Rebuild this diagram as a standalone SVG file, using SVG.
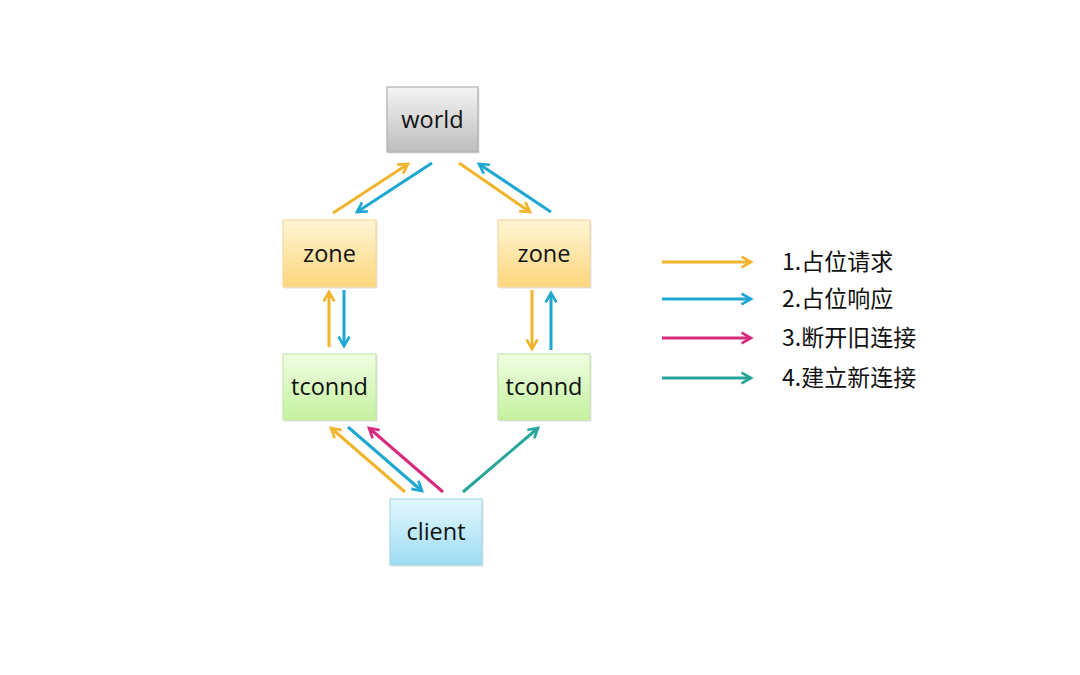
<svg xmlns="http://www.w3.org/2000/svg" width="1080" height="675" viewBox="0 0 1080 675">
<defs>
<linearGradient id="gW" x1="0" y1="0" x2="0" y2="1"><stop offset="0" stop-color="#f4f4f4"/><stop offset="1" stop-color="#bdbdbd"/></linearGradient>
<linearGradient id="gZ" x1="0" y1="0" x2="0" y2="1"><stop offset="0" stop-color="#fff5d6"/><stop offset="1" stop-color="#fcd67c"/></linearGradient>
<linearGradient id="gT" x1="0" y1="0" x2="0" y2="1"><stop offset="0" stop-color="#effde2"/><stop offset="1" stop-color="#c4f29e"/></linearGradient>
<linearGradient id="gC" x1="0" y1="0" x2="0" y2="1"><stop offset="0" stop-color="#e3f8ff"/><stop offset="1" stop-color="#9ddcf3"/></linearGradient>
<marker id="aY" viewBox="0 0 10 10" refX="8" refY="5" markerWidth="4.5" markerHeight="4.5" orient="auto" markerUnits="strokeWidth"><path d="M1,1 L8,5 L1,9" fill="none" stroke="#f0b52c" stroke-width="2"/></marker>
<marker id="aB" viewBox="0 0 10 10" refX="8" refY="5" markerWidth="4.5" markerHeight="4.5" orient="auto" markerUnits="strokeWidth"><path d="M1,1 L8,5 L1,9" fill="none" stroke="#1ea7d2" stroke-width="2"/></marker>
<marker id="aM" viewBox="0 0 10 10" refX="8" refY="5" markerWidth="4.5" markerHeight="4.5" orient="auto" markerUnits="strokeWidth"><path d="M1,1 L8,5 L1,9" fill="none" stroke="#d82a7e" stroke-width="2"/></marker>
<marker id="aT" viewBox="0 0 10 10" refX="8" refY="5" markerWidth="4.5" markerHeight="4.5" orient="auto" markerUnits="strokeWidth"><path d="M1,1 L8,5 L1,9" fill="none" stroke="#26a59a" stroke-width="2"/></marker>
</defs>
<style>
.box{stroke-width:1.2}
.sh{fill:#000;opacity:0.12}
.lbl{font-family:"Open Sans","Liberation Sans",sans-serif;font-size:23.5px;fill:#111;text-anchor:middle}
.leg{font-family:"Noto Sans CJK SC","Noto Sans",sans-serif;font-size:23px;fill:#111}
.y{stroke:#f0b52c;stroke-width:3;fill:none;marker-end:url(#aY)}
.b{stroke:#1ea7d2;stroke-width:3;fill:none;marker-end:url(#aB)}
.m{stroke:#d82a7e;stroke-width:3;fill:none;marker-end:url(#aM)}
.t{stroke:#26a59a;stroke-width:3;fill:none;marker-end:url(#aT)}
</style>
<rect width="1080" height="675" fill="#ffffff"/>
<g id="world"><rect class="sh" x="388.5" y="88.5" width="91" height="65"/><rect class="box" x="387" y="87" width="91" height="65" fill="url(#gW)" stroke="#b0b0b0"/><text class="lbl" x="432.5" y="128">world</text></g>
<g id="zone-left"><rect class="sh" x="284.5" y="221.5" width="93" height="67"/><rect class="box" x="283" y="220" width="93" height="67" fill="url(#gZ)" stroke="#f3d9a0"/><text class="lbl" x="329.5" y="262">zone</text></g>
<g id="zone-right"><rect class="sh" x="499.5" y="221.5" width="92" height="67"/><rect class="box" x="498" y="220" width="92" height="67" fill="url(#gZ)" stroke="#f3d9a0"/><text class="lbl" x="544" y="262">zone</text></g>
<g id="tconnd-left"><rect class="sh" x="284.5" y="355.5" width="93" height="66"/><rect class="box" x="283" y="354" width="93" height="66" fill="url(#gT)" stroke="#c8e8b0"/><text class="lbl" x="329.5" y="395">tconnd</text></g>
<g id="tconnd-right"><rect class="sh" x="499.5" y="355.5" width="92" height="66"/><rect class="box" x="498" y="354" width="92" height="66" fill="url(#gT)" stroke="#c8e8b0"/><text class="lbl" x="544" y="395">tconnd</text></g>
<g id="client"><rect class="sh" x="391.5" y="500.5" width="92" height="66"/><rect class="box" x="390" y="499" width="92" height="66" fill="url(#gC)" stroke="#a8d8ea"/><text class="lbl" x="436" y="540">client</text></g>
<g id="connectors">
<line class="y" x1="333" y1="213" x2="408" y2="164"/>
<line class="b" x1="432" y1="163" x2="357" y2="212"/>
<line class="y" x1="459" y1="163" x2="530" y2="212"/>
<line class="b" x1="551" y1="212" x2="479" y2="164"/>
<line class="y" x1="329" y1="347" x2="329" y2="292"/>
<line class="b" x1="344" y1="290" x2="344" y2="346"/>
<line class="y" x1="532" y1="290" x2="532" y2="349"/>
<line class="b" x1="551" y1="350" x2="551" y2="293"/>
<line class="y" x1="405" y1="492" x2="331" y2="428"/>
<line class="b" x1="348" y1="427" x2="422" y2="491"/>
<line class="m" x1="443" y1="492" x2="369" y2="428"/>
<line class="t" x1="463" y1="492" x2="538" y2="428"/>
</g>
<g id="legend">
<line class="y" x1="662" y1="262" x2="751" y2="262"/>
<line class="b" x1="662" y1="299" x2="751" y2="299"/>
<line class="m" x1="662" y1="338" x2="751" y2="338"/>
<line class="t" x1="662" y1="378" x2="751" y2="378"/>
<text class="leg" x="782" y="270">1.占位请求</text>
<text class="leg" x="782" y="307">2.占位响应</text>
<text class="leg" x="782" y="346">3.断开旧连接</text>
<text class="leg" x="782" y="386">4.建立新连接</text>
</g>
</svg>
